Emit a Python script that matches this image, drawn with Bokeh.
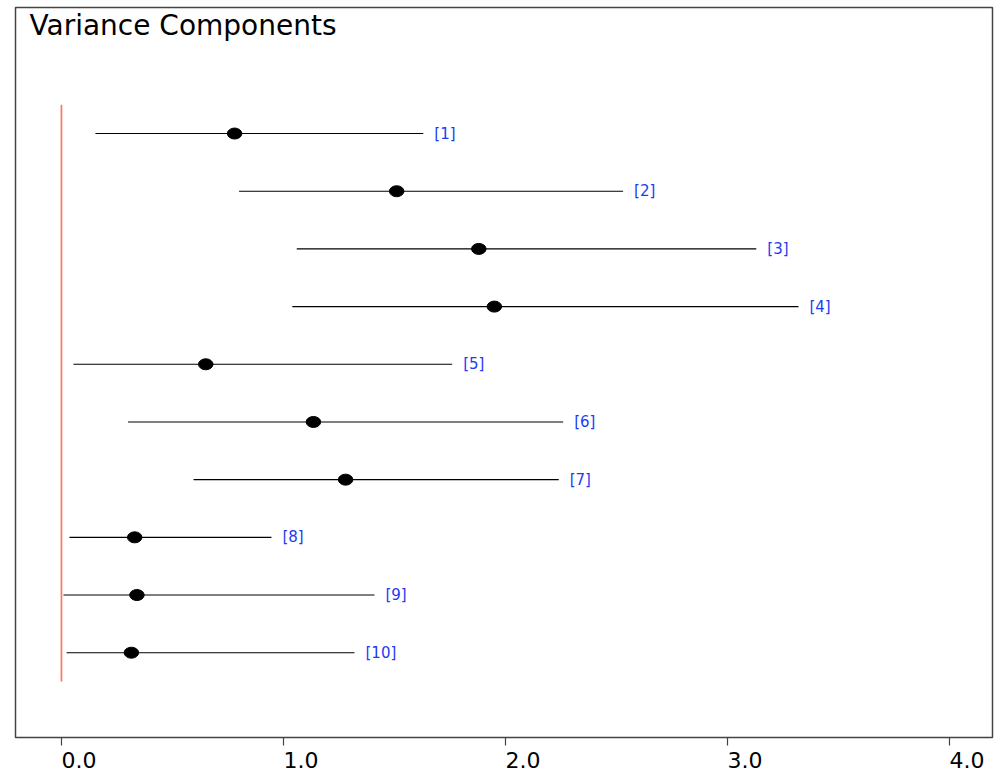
from bokeh.plotting import figure
from bokeh.models import Range1d, LinearAxis, FixedTicker, Label, ColumnDataSource
from bokeh.core.properties import value
from bokeh.embed import file_html
from bokeh.resources import INLINE

# Variance component estimates with their interval bounds
components = ["[1]", "[2]", "[3]", "[4]", "[5]", "[6]", "[7]", "[8]", "[9]", "[10]"]
row = [1, 2, 3, 4, 5, 6, 7, 8, 9, 10]
estimate = [0.78, 1.51, 1.88, 1.95, 0.65, 1.135, 1.28, 0.33, 0.34, 0.315]
lower = [0.153, 0.80, 1.06, 1.04, 0.054, 0.30, 0.595, 0.036, 0.009, 0.023]
upper = [1.63, 2.53, 3.13, 3.32, 1.76, 2.26, 2.24, 0.946, 1.41, 1.32]
reference_value = 0.0
x_ticks = [0, 1, 2, 3, 4]
tick_labels = ["0.0", "1.0", "2.0", "3.0", "4.0"]

FONT = "DejaVu Sans"
WIDTH, HEIGHT = 1003, 778
BORDER_L, BORDER_R, BORDER_T, BORDER_B = 15, 11, 7, 41
FRAME_W = WIDTH - BORDER_L - BORDER_R
FRAME_H = HEIGHT - BORDER_T - BORDER_B

src = ColumnDataSource(dict(comp=components, row=row, est=estimate, lo=lower, hi=upper))

x_start, x_end = -0.207, 4.194
p = figure(
    width=WIDTH, height=HEIGHT,
    x_range=Range1d(x_start, x_end),
    y_range=Range1d(11.47, -1.185),
    x_axis_location=None, y_axis_location=None,
    output_backend="svg", toolbar_location=None,
    min_border_left=BORDER_L, min_border_right=BORDER_R,
    min_border_top=BORDER_T, min_border_bottom=BORDER_B,
    background_fill_color="white", border_fill_color="white",
)
p.grid.visible = False
p.outline_line_color = "#444444"
p.outline_line_width = 1.5

# Bottom axis: labels sit a little to the right of their ticks, so the axis
# runs on a shifted range and the true tick positions are drawn as minor ticks.
shift = 17.5 * (x_end - x_start) / FRAME_W
p.extra_x_ranges = {"labels": Range1d(x_start - shift, x_end - shift)}
ticker = FixedTicker(ticks=x_ticks, minor_ticks=[t - shift for t in x_ticks])
axis = LinearAxis(ticker=ticker, x_range_name="labels")
axis.axis_line_alpha = 0
axis.major_tick_in = 0
axis.major_tick_out = 0
axis.minor_tick_in = 0
axis.minor_tick_out = 8
axis.minor_tick_line_color = "#444444"
axis.minor_tick_line_width = 1.2
axis.major_label_overrides = {t: s for t, s in zip(x_ticks, tick_labels)}
axis.major_label_text_font = FONT
axis.major_label_text_font_size = "22px"
axis.major_label_text_color = "black"
axis.major_label_standoff = 6
p.add_layout(axis, "below")

# reference line at zero spanning all rows
p.segment(x0=[reference_value], y0=[min(row) - 0.5], x1=[reference_value], y1=[max(row) + 0.5],
          line_color="#fb7858", line_width=1.7)

# interval bars
p.segment(x0="lo", y0="row", x1="hi", y1="row", source=src, line_color="black", line_width=1.1)

# point estimates
p.ellipse(x="est", y="row", width=14.5, height=11, width_units="screen", height_units="screen",
          source=src, fill_color="black", line_color="black")

# component labels at the right end of each interval
p.text(x="hi", y="row", text="comp", source=src, x_offset=11,
       text_baseline="middle", text_align="left",
       text_font=value(FONT), text_font_size="15px", text_color="#1c3cf4")

p.add_layout(Label(x=14, y=FRAME_H - 34, x_units="screen", y_units="screen",
                   text="Variance Components", text_font=FONT, text_font_size="28px",
                   text_color="black", text_baseline="bottom"))

open("out.html", "w").write(file_html(p, INLINE))
